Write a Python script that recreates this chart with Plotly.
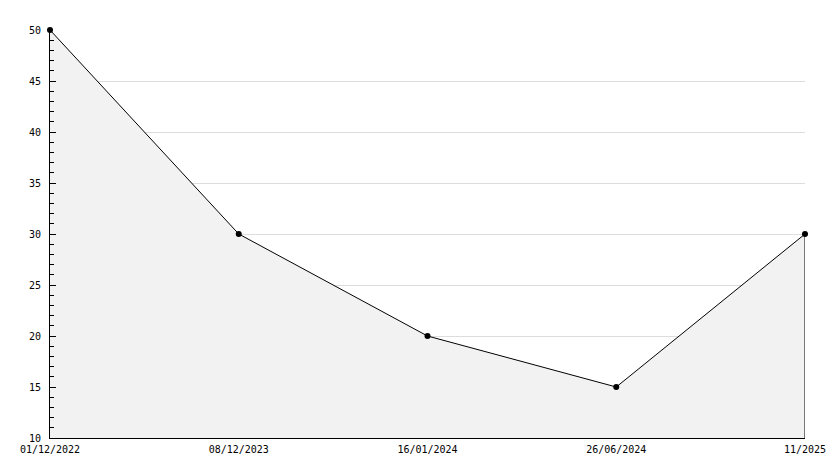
import plotly.graph_objects as go

categories = ["01/12/2022", "08/12/2023", "16/01/2024", "26/06/2024", "11/2025"]
values = [50, 30, 20, 15, 30]
y_ticks = [10, 15, 20, 25, 30, 35, 40, 45, 50]
y_min, y_max = 10, 50

xs = list(range(len(categories)))

fig = go.Figure()
fig.add_trace(go.Scatter(
    x=xs, y=values, mode="lines+markers",
    line=dict(color="black", width=1),
    marker=dict(symbol="circle", size=6, color="black"),
    fill="tozeroy", fillcolor="#f2f2f2",
    cliponaxis=False, hoverinfo="skip",
))
# right edge outline of the filled area
fig.add_trace(go.Scatter(
    x=[xs[-1], xs[-1]], y=[y_min, values[-1]], mode="lines",
    line=dict(color="black", width=1), hoverinfo="skip", cliponaxis=False,
))

font = dict(family="DejaVu Sans Mono", size=10, color="black")
fig.update_layout(
    width=834, height=468,
    margin=dict(l=50, r=29, t=30, b=30),
    paper_bgcolor="white", plot_bgcolor="white",
    showlegend=False, font=font,
    xaxis=dict(
        range=[0, len(categories) - 1], tickvals=xs, ticktext=categories,
        showgrid=False, zeroline=False, showline=True, linecolor="black",
        linewidth=1, ticks="", tickfont=font, ticklabelstandoff=2,
        automargin=False,
    ),
    yaxis=dict(
        range=[y_min, y_max], tickvals=y_ticks,
        showgrid=True, gridcolor="#dddddd", gridwidth=1,
        zeroline=False, showline=True, linecolor="black", linewidth=1,
        ticks="inside", ticklen=6, tickcolor="black", tickfont=font,
        ticklabelstandoff=6, automargin=False,
        minor=dict(dtick=1, ticks="inside", ticklen=4, tickcolor="black", showgrid=False),
    ),
)
fig.write_html(
    "out.html",
    config={"displayModeBar": False, "staticPlot": True},
    post_script="document.body.style.margin='0px';document.body.style.overflow='hidden';",
)
